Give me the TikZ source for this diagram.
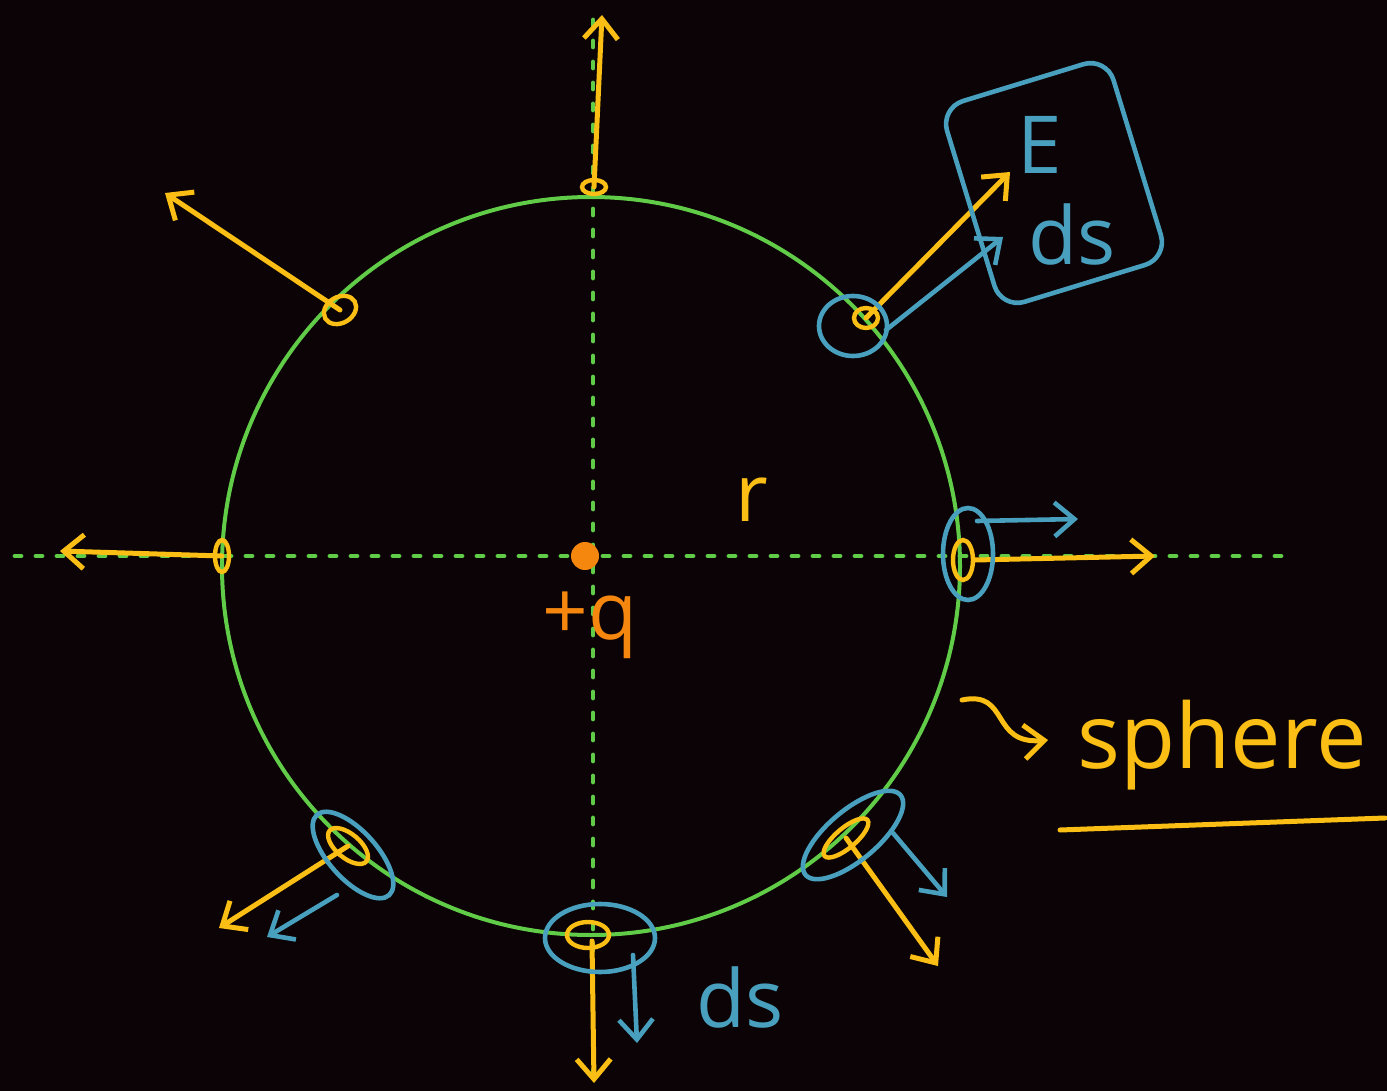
\documentclass[tikz,border=0pt]{standalone}
\usepackage{fontspec}
\setmainfont{Open Sans}
\usetikzlibrary{arrows.meta, positioning}
\definecolor{boardBg}{RGB}{11,3,5}
\definecolor{sphereGreen}{RGB}{96,204,72}
\definecolor{fieldYellow}{RGB}{250,190,20}
\definecolor{areaBlue}{RGB}{72,160,190}
\definecolor{chargeOrange}{RGB}{245,135,15}

\begin{document}
\begin{tikzpicture}[x=0.5pt, y=-0.5pt,
    axis/.style={sphereGreen, line width=2.4pt, dash pattern=on 3pt off 7.5pt, line cap=round},
    field/.style={fieldYellow, line width=2.5pt, line cap=round, -{Straight Barb[length=10pt, width=17pt]}},
    areavec/.style={areaBlue, line width=2.3pt, line cap=round, -{Straight Barb[length=10pt, width=17pt]}},
    patch/.style={fieldYellow, line width=2.2pt},
    loop/.style={areaBlue, line width=2.3pt},
    hand/.style={font=\fontsize{40}{44}\selectfont, inner sep=0pt}
]
% board
\fill[boardBg] (0,0) rectangle (1387,1091);
\useasboundingbox (0,0) rectangle (1387,1091);

% axes and sphere
\coordinate (xL) at (15,556);
\coordinate (xR) at (1285,556);
\coordinate (yT) at (593,20);
\coordinate (yB) at (593,1091);
\draw[axis] (xL) -- (xR);
\draw[axis] (yT) -- (yB);
\coordinate (centre) at (591,566);
\draw[sphereGreen, line width=2pt] (centre) circle [radius=184.5pt];

% charge
\fill[chargeOrange] (585,556) circle [radius=7pt];
\node[hand, text=chargeOrange] (charge) at (590,625) {+q};
\node[hand, text=fieldYellow] (radius) at (752,500) {r};

% surface patches
\coordinate (pTop) at (594,187);
\coordinate (pUL) at (340,310);
\coordinate (pLeft) at (222,556);
\coordinate (pRight) at (963,560);
\coordinate (pUR) at (866,318);
\coordinate (pLR) at (846,838);
\coordinate (pBot) at (588,935);
\coordinate (pLL) at (348,846);
\draw[patch] (pTop) ellipse [x radius=6pt, y radius=3.5pt];
\draw[patch, rotate around={30:(pUL)}] (pUL) ellipse [x radius=8.5pt, y radius=6.5pt];
\draw[patch] (pLeft) ellipse [x radius=3.5pt, y radius=8pt];
\draw[patch] (pRight) ellipse [x radius=5pt, y radius=10pt];
\draw[patch] (pUR) ellipse [x radius=6pt, y radius=5pt];
\draw[patch, rotate around={40:(pLR)}] (pLR) ellipse [x radius=14pt, y radius=5pt];
\draw[patch] (pBot) ellipse [x radius=10.5pt, y radius=6.5pt];
\draw[patch, rotate around={-40:(pLL)}] (pLL) ellipse [x radius=12pt, y radius=6pt];

% field arrows
\coordinate (tTop) at (602,15);
\coordinate (tUL) at (165,193);
\coordinate (tLeft) at (60,551);
\coordinate (tRight) at (1155,556);
\coordinate (tUR) at (1010,172);
\coordinate (tLR) at (938,966);
\coordinate (tBot) at (594,1083);
\coordinate (tLL) at (219,928);
\draw[field] (pTop) -- (tTop);
\draw[field] (pUL) -- (tUL);
\draw[field] (pLeft) -- (tLeft);
\draw[field] ([xshift=6pt]pRight) -- (tRight);
\draw[field] (pUR) -- (tUR);
\draw[field] (pLR) -- (tLR);
\draw[field] ([xshift=2pt, yshift=-3pt]pBot) -- (tBot);
\draw[field] (pLL) -- (tLL);

% area loops
\draw[loop] (853,326) ellipse [x radius=17pt, y radius=15pt];
\draw[loop] (968,554) ellipse [x radius=12.5pt, y radius=23pt];
\draw[loop, rotate around={40:(853,835)}] (853,835) ellipse [x radius=31pt, y radius=12.5pt];
\draw[loop] (600,938) ellipse [x radius=27.5pt, y radius=17pt];
\draw[loop, rotate around={-48:(353,855)}] (353,855) ellipse [x radius=27pt, y radius=12pt];

% area vectors
\coordinate (aUR) at (886,330);
\coordinate (aRight) at (977,521);
\coordinate (aLR) at (893,833);
\coordinate (aBot) at (633,955);
\coordinate (aLL) at (337,895);
\coordinate (bUR) at (1003,237);
\coordinate (bRight) at (1078,519);
\coordinate (bLR) at (947,897);
\coordinate (bBot) at (637,1043);
\coordinate (bLL) at (267,937);
\draw[areavec] (aUR) -- (bUR);
\draw[areavec] (aRight) -- (bRight);
\draw[areavec] (aLR) -- (bLR);
\draw[areavec] (aBot) -- (bBot);
\draw[areavec] (aLL) -- (bLL);

% E dot ds box
\node[draw=areaBlue, line width=2.3pt, rounded corners=12pt, rotate=17,
      minimum width=87pt, minimum height=105pt] (fluxbox) at (1054,183) {};
\node[hand, text=areaBlue] (efield) at (1040,145) {E};
\node[hand, text=areaBlue] (dsbox) at (1072,235) {ds};
\node[hand, text=areaBlue] (dsbot) at (740,997) {ds};

% sphere label
\node[hand, text=fieldYellow, font=\fontsize{45}{50}\selectfont] (sphere) at (1222,745) {sphere};
\coordinate (squigStart) at (962,700);
\coordinate (squigTip) at (1048,740);
\draw[field] (squigStart) .. controls (1010,690) and (990,745) .. (squigTip);
\coordinate (ulA) at (1060,830);
\coordinate (ulB) at (1385,818);
\draw[fieldYellow, line width=2.5pt, line cap=round] (ulA) -- (ulB);
\end{tikzpicture}
\end{document}
